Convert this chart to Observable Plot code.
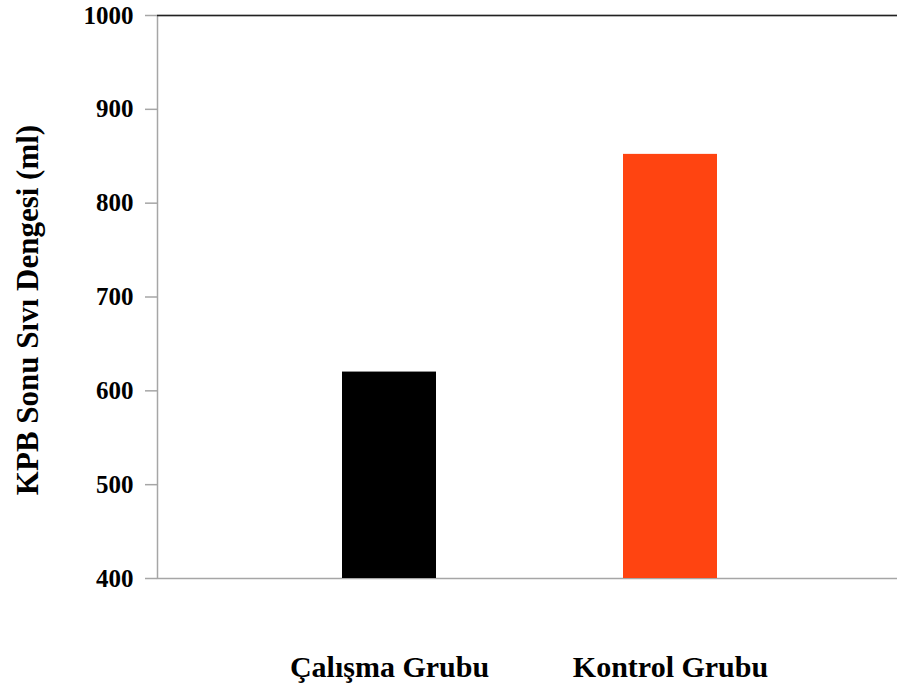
<!DOCTYPE html>
<html>
<head>
<meta charset="utf-8">
<script src="https://cdn.jsdelivr.net/npm/d3@7"></script>
<script src="https://cdn.jsdelivr.net/npm/@observablehq/plot@0.6"></script>
<style>
  html, body { margin: 0; padding: 0; background: #fff; }
  svg { font-family: "Liberation Serif", "Times New Roman", serif; font-weight: bold; }
</style>
</head>
<body>
<div id="chart"></div>
<script>
const groups = ["Çalışma Grubu", "Kontrol Grubu"];
const values = [620, 852];
const colors = ["#000000", "#ff4411"];
const yTicks = [400, 500, 600, 700, 800, 900, 1000];
const yLabel = "KPB Sonu Sıvı Dengesi (ml)";

const data = groups.map((g, i) => ({group: g, value: values[i], color: colors[i]}));

const chart = Plot.plot({
  width: 897,
  height: 688,
  marginLeft: 157,
  marginRight: -4,
  marginTop: 15,
  marginBottom: 110,
  style: {background: "#fff", fontFamily: "'Liberation Serif', 'Times New Roman', serif", fontWeight: "bold", overflow: "hidden"},
  x: {domain: groups, paddingInner: 0.665, paddingOuter: 0.655, align: 0.502, axis: null},
  y: {domain: [400, 1000], axis: null},
  marks: [
    Plot.frame({stroke: "#a6a6a6", strokeWidth: 1.5}),
    Plot.barY(data, {x: "group", y1: 400, y2: "value", fill: "color"}),
    Plot.ruleY([1000], {stroke: "#222", strokeWidth: 1.5}),
    Plot.axisY({ticks: yTicks, tickFormat: d => String(d), tickSize: 12, tickPadding: 12, stroke: "#a6a6a6", fill: "black", fontSize: 25, label: null, strokeWidth: 1.5}),
    Plot.axisX({tickSize: 0, tickPadding: 77, fontSize: 30, fill: "black", label: null}),
    Plot.text([yLabel], {frameAnchor: "left", textAnchor: "middle", rotate: -90, dx: -129, dy: 13, fontSize: 31, fill: "black", fontWeight: "bold"})
  ]
});
document.getElementById("chart").appendChild(chart);
</script>
</body>
</html>
